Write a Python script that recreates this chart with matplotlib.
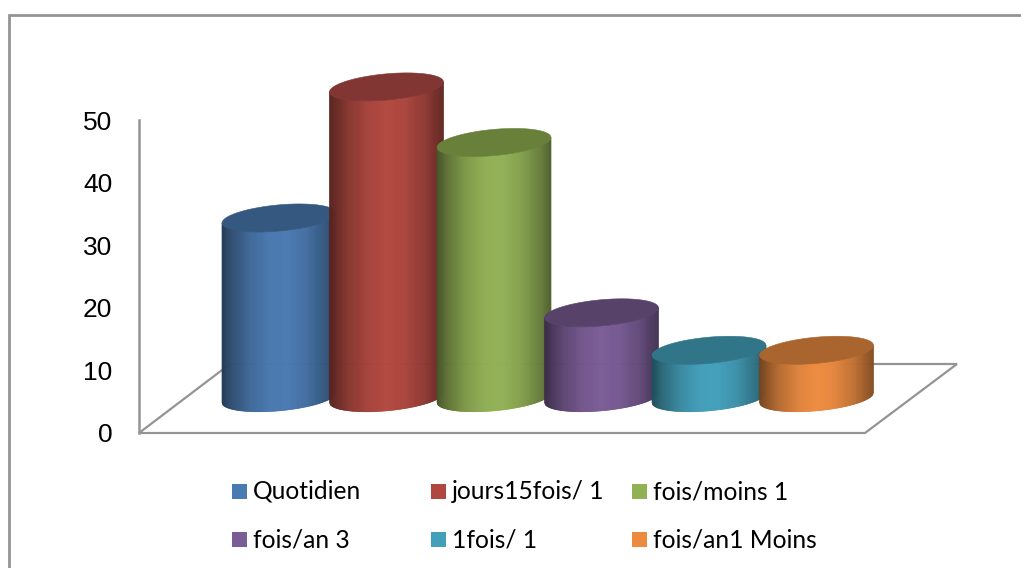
import numpy as np
import matplotlib
matplotlib.use("Agg")
import matplotlib.pyplot as plt
from matplotlib.collections import PolyCollection
from matplotlib.colors import to_rgb
from matplotlib.patches import Polygon, Rectangle

categories = ["Quotidien", "jours15fois/ 1", "fois/moins 1", "fois/an 3", "1fois/ 1", "fois/an1 Moins"]
values = [28.8, 49.8, 40.9, 13.6, 7.6, 7.6]
colors = ["#4A7AB2", "#B1483F", "#92B155", "#7A5C96", "#43A0BB", "#EC8B40"]
tops = ["#34587F", "#823634", "#68803A", "#574369", "#307588", "#A9652D"]
yticks = [0, 10, 20, 30, 40, 50]

W, H = 1021, 568
fig = plt.figure(figsize=(W / 100, H / 100), dpi=100)
ax = fig.add_axes([0, 0, 1, 1])
ax.set_xlim(-279 / 107.5, (W - 279) / 107.5)
ax.set_ylim((432 - H) / 6.24, 432 / 6.24)
ax.axis("off")


def px(x, y):
    return (x - 279) / 107.5, (432 - y) / 6.24


GRAY = "#949494"
# outer frame
ax.plot(*zip(px(8.5, H), px(8.5, 15.5), px(W, 15.5)), color=GRAY, lw=2, solid_joinstyle="miter")
# floor and axis
floor = [px(230, 364), px(957, 364), px(865, 433), px(139, 433)]
ax.add_patch(Polygon(floor, closed=True, fc="white", ec=GRAY, lw=1.6, zorder=1))
ax.plot(*zip(px(138.5, 120), px(138.5, 433)), color=GRAY, lw=1.8, zorder=2)
for t in yticks:
    x, y = px(112.5, 432 - 6.24 * t + 0.5)
    ax.text(x, y, str(t), ha="right", va="center_baseline", fontsize=19,
            family="Liberation Sans", color="black")

# cylinders
A = 0.53          # half width, category units
B = 2.1           # ellipse half height, value units
TILT = 0.8        # ellipse tilt, value units
BASE = 5.5        # floor offset of the bar base, value units
N = 120


def shade(c, u):
    base = np.array(to_rgb(c))
    d = abs(u - 0.52) / 0.52
    return tuple(base * (1 - 0.52 * d ** 1.9))


for i, (v, c, tc) in enumerate(zip(values, colors, tops)):
    us = np.linspace(0, 1, N + 1)
    xs = i - A + 2 * A * us
    cosv = 2 * us - 1
    sinv = np.sqrt(np.clip(1 - cosv ** 2, 0, 1))
    low = TILT * cosv - B * sinv
    polys, fcs = [], []
    for k in range(N):
        polys.append([(xs[k], BASE + low[k]), (xs[k + 1], BASE + low[k + 1]),
                      (xs[k + 1], BASE + v + low[k + 1]), (xs[k], BASE + v + low[k])])
        fcs.append(shade(c, (us[k] + us[k + 1]) / 2))
    ax.add_collection(PolyCollection(polys, facecolors=fcs, edgecolors=fcs, linewidths=0.5, zorder=3 + i))
    tt = np.linspace(0, 2 * np.pi, 160)
    ex = i + A * np.cos(tt)
    ey = BASE + v + TILT * np.cos(tt) + B * np.sin(tt)
    ax.fill(ex, ey, color=tc, lw=0.4, zorder=3 + i)

# legend
cols = [232, 431, 632]
rows = [491.5, 539.5]
for i, (name, c) in enumerate(zip(categories, colors)):
    x0, yc = cols[i % 3], rows[i // 3]
    ax.add_patch(Rectangle(px(x0, yc + 7.5), 15 / 107.5, 15 / 6.24, fc=c, ec="none", zorder=20))
    x, y = px(x0 + 21, yc)
    ax.text(x, y, name, ha="left", va="center", fontsize=17.7, family="Lato", color="black", zorder=20)

fig.savefig("out.png", dpi=100)
